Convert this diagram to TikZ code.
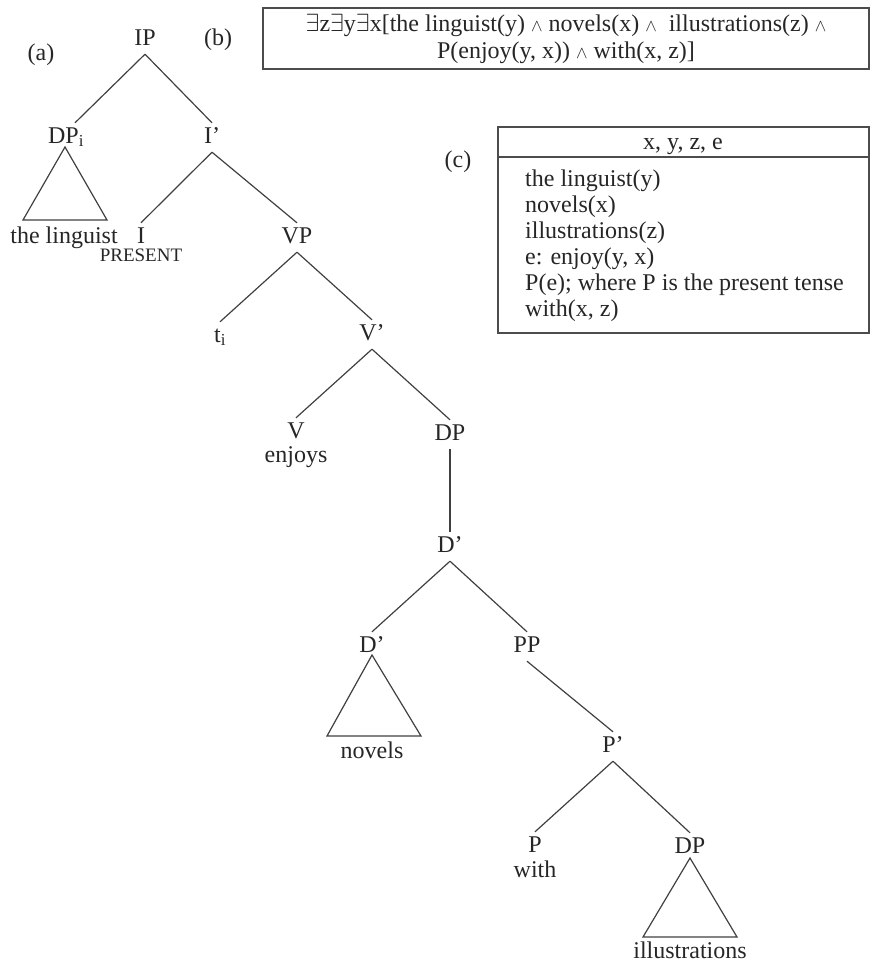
\documentclass[tikz,border=0pt]{standalone}
\usepackage{fontspec}
\setmainfont{Liberation Serif}

\begin{document}
\begin{tikzpicture}[x=1pt,y=-1pt,font=\fontsize{24}{27}\selectfont]
\tikzstyle{cat}=[anchor=base, inner xsep=0pt, inner ysep=4pt, text height=16pt, text depth=5pt, text=black!85]
\tikzstyle{word}=[anchor=base, inner sep=0pt, text=black!85]
\tikzstyle{br}=[line width=1.2pt, black!75]
\tikzstyle{boxline}=[line width=2pt, black!70]
\useasboundingbox (0,0) rectangle (871,964);
%labels
\node[word] (la) at (41,60) {(a)};
\node[word] (lb) at (218,45) {(b)};
\node[word] (lc) at (458,167) {(c)};
%tree
\node[cat] (ip) at (145,45) {IP};
\node[cat] (dpi) at (66,143) {DP\textsubscript{i}};
\node[cat] (ib) at (212,143) {I'};
\node[cat] (i) at (141,243) {I};
\node[cat] (vp) at (297,243) {VP};
\node[cat] (ti) at (220,342) {t\textsubscript{i}};
\node[cat] (vb) at (372,340) {V'};
\node[cat] (v) at (296,438) {V};
\node[cat] (dpa) at (450,440) {DP};
\node[cat] (dba) at (450,552) {D'};
\node[cat] (dbb) at (372,652) {D'};
\node[cat] (pp) at (527,652) {PP};
\node[cat] (pb) at (613,752) {P'};
\node[cat] (p) at (535,852) {P};
\node[cat] (dpb) at (690,853) {DP};
%words
\node[word] (ling) at (64,243) {the linguist};
\node[word, font=\fontsize{19}{20}\selectfont] (pres) at (141,261) {PRESENT};
\node[word] (enj) at (296,462) {enjoys};
\node[word] (nov) at (372,758) {novels};
\node[word] (wth) at (535,877) {with};
\node[word] (ill) at (690,958) {illustrations};
%branches
\draw[br] (ip.south) -- ([xshift=9pt]dpi.north);
\draw[br] (ip.south) -- (ib.north);
\draw[br] (ib.south) -- (i.north);
\draw[br] (ib.south) -- (vp.north);
\draw[br] (vp.south) -- (ti.north);
\draw[br] (vp.south) -- (vb.north);
\draw[br] (vb.south) -- (v.north);
\draw[br] (vb.south) -- (dpa.north);
\draw[br] (dpa.south) -- (dba.north);
\draw[br] (dba.south) -- (dbb.north);
\draw[br] (dba.south) -- (pp.north);
\draw[br] (pp.south) -- (pb.north);
\draw[br] (pb.south) -- (p.north);
\draw[br] (pb.south) -- (dpb.north);
%triangles
\coordinate (tal) at (23,220);
\coordinate (tar) at (107,220);
\draw[br] ([yshift=-4pt,xshift=-1pt]dpi.base) -- (tal) -- (tar) -- cycle;
\coordinate (tbl) at (327,736);
\coordinate (tbr) at (421,736);
\draw[br] ([yshift=-3pt]dbb.base) -- (tbl) -- (tbr) -- cycle;
\coordinate (tcl) at (643,937);
\coordinate (tcr) at (737,937);
\draw[br] ([yshift=-5pt]dpb.base) -- (tcl) -- (tcr) -- cycle;
%(b) formula
\node[draw, boxline, text=black!85, minimum width=606pt, minimum height=61pt, align=center, inner sep=0pt] (lf) at (566,38.5)
 {$\exists$z$\exists$y$\exists$x[the linguist(y) {\fontsize{17}{17}\selectfont$\wedge$} novels(x) {\fontsize{17}{17}\selectfont$\wedge$}\ \ illustrations(z) {\fontsize{17}{17}\selectfont$\wedge$}\\
 P(enjoy(y, x)) {\fontsize{17}{17}\selectfont$\wedge$} with(x, z)]};
%(c) box
\draw[boxline] (498,127) rectangle (869,333);
\draw[boxline] (498,157) -- (869,157);
\node[word] (drshead) at (683,149) {x, y, z, e};
\node[word, anchor=base west] (c1) at (525,186) {the linguist(y)};
\node[word, anchor=base west] (c2) at (525,212) {novels(x)};
\node[word, anchor=base west] (c3) at (525,238) {illustrations(z)};
\node[word, anchor=base west] (c4) at (525,264) {e: enjoy(y, x)};
\node[word, anchor=base west] (c5) at (525,290) {P(e); where P is the present tense};
\node[word, anchor=base west] (c6) at (525,316) {with(x, z)};
\end{tikzpicture}
\end{document}
